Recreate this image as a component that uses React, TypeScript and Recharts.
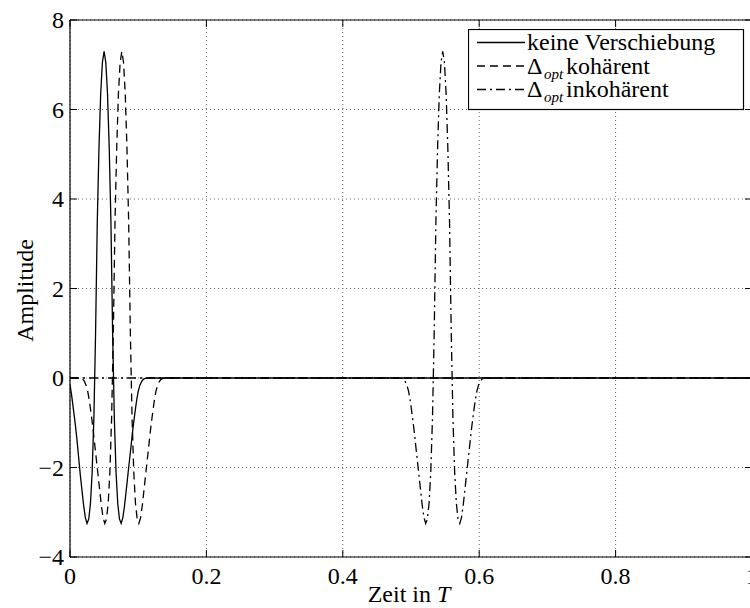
import React from "react"
import { LineChart, Line, XAxis, YAxis, CartesianGrid, Legend } from "recharts"

// axis ticks
const xTicks = [0, 0.2, 0.4, 0.6, 0.8, 1]
const yTicks = [-4, -2, 0, 2, 4, 6, 8]

// [Zeit in T, Amplitude]
const keineVerschiebung: [number, number][] = [
  [0, -0.15], [0.0025, -0.4], [0.005, -0.7], [0.0075, -1.0], [0.01, -1.35], [0.0125, -1.75],
  [0.015, -2.15], [0.0175, -2.5], [0.02, -2.85], [0.0225, -3.12], [0.025, -3.25], [0.0275, -3.15],
  [0.03, -2.8], [0.0325, -2.1], [0.035, -0.9], [0.0375, 1.0], [0.04, 3.5], [0.0425, 5.15],
  [0.045, 6.35], [0.0475, 7.05], [0.05, 7.3], [0.0525, 7.05], [0.055, 6.35], [0.0575, 5.15],
  [0.06, 3.5], [0.0625, 1.0], [0.065, -0.9], [0.0675, -2.1], [0.07, -2.8], [0.0725, -3.15],
  [0.075, -3.25], [0.0775, -3.12], [0.08, -2.85], [0.0825, -2.5], [0.085, -2.15], [0.0875, -1.8],
  [0.09, -1.45], [0.0925, -1.1], [0.095, -0.8], [0.0975, -0.52], [0.1, -0.3], [0.1025, -0.16],
  [0.105, -0.08], [0.1075, -0.03], [0.11, -0.01], [0.115, 0], [1, 0],
]

const optKohaerent: [number, number][] = [
  [0, 0], [0.016, 0], [0.0185, -0.02], [0.021, -0.07], [0.0235, -0.16], [0.026, -0.3],
  [0.0285, -0.52], [0.031, -0.8], [0.0335, -1.1], [0.036, -1.45], [0.0385, -1.8], [0.041, -2.15],
  [0.0435, -2.5], [0.046, -2.85], [0.0485, -3.12], [0.051, -3.25], [0.0535, -3.15], [0.056, -2.8],
  [0.0585, -2.1], [0.061, -0.9], [0.0635, 1.0], [0.066, 3.5], [0.0685, 5.15], [0.071, 6.35],
  [0.0735, 7.05], [0.076, 7.3], [0.0785, 7.05], [0.081, 6.35], [0.0835, 5.15], [0.086, 3.5],
  [0.0885, 1.0], [0.091, -0.9], [0.0935, -2.1], [0.096, -2.8], [0.0985, -3.15], [0.101, -3.25],
  [0.1035, -3.12], [0.106, -2.85], [0.1085, -2.5], [0.111, -2.15], [0.1135, -1.8], [0.116, -1.45],
  [0.1185, -1.1], [0.121, -0.8], [0.1235, -0.52], [0.126, -0.3], [0.1285, -0.16], [0.131, -0.08],
  [0.1335, -0.03], [0.136, -0.01], [0.141, 0], [1, 0],
]

const optInkohaerent: [number, number][] = [
  [0, 0], [0.4815, 0], [0.4865, -0.01], [0.489, -0.03], [0.4915, -0.08], [0.494, -0.16],
  [0.4965, -0.3], [0.499, -0.52], [0.5015, -0.8], [0.504, -1.1], [0.5065, -1.45], [0.509, -1.8],
  [0.5115, -2.15], [0.514, -2.5], [0.5165, -2.85], [0.519, -3.12], [0.5215, -3.25], [0.524, -3.15],
  [0.5265, -2.8], [0.529, -2.1], [0.5315, -0.9], [0.534, 1.0], [0.5365, 3.5], [0.539, 5.15],
  [0.5415, 6.35], [0.544, 7.05], [0.5465, 7.3], [0.549, 7.05], [0.5515, 6.35], [0.554, 5.15],
  [0.5565, 3.5], [0.559, 1.0], [0.5615, -0.9], [0.564, -2.1], [0.5665, -2.8], [0.569, -3.15],
  [0.5715, -3.25], [0.574, -3.12], [0.5765, -2.85], [0.579, -2.5], [0.5815, -2.15], [0.584, -1.8],
  [0.5865, -1.45], [0.589, -1.1], [0.5915, -0.8], [0.594, -0.52], [0.5965, -0.3], [0.599, -0.16],
  [0.6015, -0.08], [0.604, -0.03], [0.6065, -0.01], [0.6115, 0], [1, 0],
]

const FONT = "Liberation Serif, DejaVu Serif, serif"
const textStyle = { fontFamily: FONT, fontSize: 24 }
const TICK_LEN = 7

const toPoints = (pts: [number, number][]) => pts.map(([x, y]) => ({ x, y }))
const fmt = (v: number) => (v < 0 ? "\u2212" + Math.abs(v) : String(v))

const LeftTick = (props: any) => {
  const { x, y, payload } = props
  return (
    <g>
      <line x1={x} y1={y} x2={x + TICK_LEN} y2={y} stroke="#000" />
      <text x={x - 6} y={y + 8} textAnchor="end" style={textStyle} fill="#000">
        {fmt(payload.value)}
      </text>
    </g>
  )
}

const BottomTick = (props: any) => {
  const { x, y, payload } = props
  return (
    <g>
      <line x1={x} y1={y} x2={x} y2={y - TICK_LEN} stroke="#000" />
      <text x={x} y={y + 27} textAnchor="middle" style={textStyle} fill="#000">
        {fmt(payload.value)}
      </text>
    </g>
  )
}

const TopTick = (props: any) => (
  <line x1={props.x} y1={props.y} x2={props.x} y2={props.y + TICK_LEN} stroke="#000" />
)

const RightTick = (props: any) => (
  <line x1={props.x} y1={props.y} x2={props.x - TICK_LEN} y2={props.y} stroke="#000" />
)

const YTitle = (props: any) => {
  const vb = props.viewBox || { x: 0, y: 20, width: 70, height: 537 }
  const cx = vb.x + 33
  const cy = vb.y + vb.height / 2 + 2
  return (
    <text x={cx} y={cy} transform={`rotate(-90, ${cx}, ${cy})`} textAnchor="middle"
      style={textStyle} fill="#000">
      Amplitude
    </text>
  )
}

const XTitle = (props: any) => {
  const vb = props.viewBox || { x: 70, y: 557, width: 682, height: 51 }
  return (
    <text x={vb.x + vb.width / 2 - 2} y={vb.y + 45} textAnchor="middle" style={textStyle} fill="#000">
      Zeit in <tspan fontStyle="italic">T</tspan>
    </text>
  )
}

const legendRows = [
  { dash: undefined, label: "keine Verschiebung", delta: false },
  { dash: "8 5", label: "kohärent", delta: true },
  { dash: "9 4 2 4", label: "inkohärent", delta: true },
]

const LegendBox = () => (
  <svg width={277} height={82} style={{ display: "block" }}>
    <rect x={0.5} y={0.5} width={275} height={80} fill="#fff" stroke="#000" strokeWidth={1.2} />
    {legendRows.map((r, i) => {
      const base = 21 + i * 23.5
      return (
        <g key={i}>
          <line x1={9} x2={57} y1={base - 7.5} y2={base - 7.5} stroke="#000" strokeWidth={1.3}
            strokeDasharray={r.dash} />
          <text y={base} style={textStyle} fill="#000">
            {r.delta ? (
              <>
                <tspan x={59}>Δ</tspan>
                <tspan x={76} dy={5} style={{ fontSize: 15, fontStyle: "italic" }}>opt</tspan>
                <tspan x={98} dy={-5}>{r.label}</tspan>
              </>
            ) : (
              <tspan x={59}>{r.label}</tspan>
            )}
          </text>
        </g>
      )
    })}
  </svg>
)

export default function App() {
  const axisLine = { stroke: "#000", strokeWidth: 1.2 }
  return (
    <div style={{ position: "absolute", left: 0, top: 0, width: 750, height: 608, overflow: "hidden", background: "#fff" }}>
      <LineChart width={760} height={608} margin={{ top: 0, right: 0, bottom: 0, left: 0 }}>
        <CartesianGrid stroke="#666" strokeDasharray="1 3" strokeWidth={1} />
        <XAxis dataKey="x" type="number" domain={[0, 1]} ticks={xTicks} allowDataOverflow
          height={51} tickSize={0} tickMargin={0} tickLine={false} axisLine={axisLine}
          tick={<BottomTick />} interval={0} label={XTitle} />
        <XAxis xAxisId="top" orientation="top" dataKey="x" type="number" domain={[0, 1]} ticks={xTicks}
          allowDataOverflow height={20} tickSize={0} tickMargin={0} tickLine={false} axisLine={axisLine}
          tick={<TopTick />} interval={0} />
        <YAxis type="number" domain={[-4, 8]} ticks={yTicks} allowDataOverflow width={70}
          tickSize={0} tickMargin={0} tickLine={false} axisLine={axisLine} tick={<LeftTick />}
          interval={0} label={YTitle} />
        <YAxis yAxisId="right" orientation="right" type="number" domain={[-4, 8]} ticks={yTicks}
          allowDataOverflow width={8} tickSize={0} tickMargin={0} tickLine={false} axisLine={axisLine}
          tick={<RightTick />} interval={0} />
        <Line data={toPoints(keineVerschiebung)} dataKey="y" type="linear" stroke="#000" strokeWidth={1.3}
          dot={false} activeDot={false} isAnimationActive={false} />
        <Line data={toPoints(optKohaerent)} dataKey="y" type="linear" stroke="#000" strokeWidth={1.3}
          strokeDasharray="8 5" dot={false} activeDot={false} isAnimationActive={false} />
        <Line data={toPoints(optInkohaerent)} dataKey="y" type="linear" stroke="#000" strokeWidth={1.3}
          strokeDasharray="9 4 2 4" dot={false} activeDot={false} isAnimationActive={false} />
        <Legend layout="vertical" align="center" verticalAlign="middle" content={<LegendBox />}
          wrapperStyle={{ position: "absolute", left: 468, top: 29, width: 277, height: 82, margin: 0, lineHeight: 0 }} />
      </LineChart>
    </div>
  )
}
